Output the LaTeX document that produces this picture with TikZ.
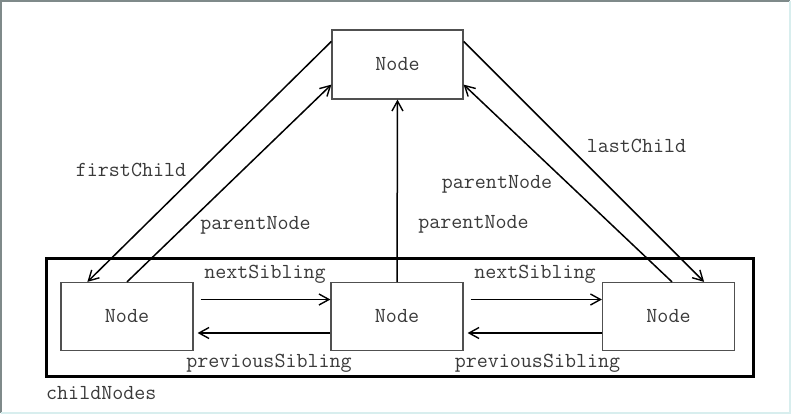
\documentclass[tikz,border=0pt]{standalone}
\usepackage{fontspec}
\usetikzlibrary{arrows.meta}
\definecolor{framegray}{HTML}{7F8A8A}
\definecolor{framecyan}{HTML}{D8EEEE}
\definecolor{txtgray}{HTML}{3A3A3A}
\definecolor{boxgray}{HTML}{505050}
\tikzset{
  x=1pt, y=-1pt,
  lbl/.style={font=\ttfamily\fontsize{21.4}{22}\selectfont, text=txtgray, inner sep=0pt},
  nodebox/.style={draw=boxgray, line width=1.2pt, fill=white, minimum width=132pt, minimum height=68pt, inner sep=0pt, lbl},
  conn/.style={line width=1.5pt, -{Straight Barb[length=10pt, width=11pt, line width=1.4pt]}},
}
\begin{document}
\begin{tikzpicture}
\useasboundingbox (0,0) rectangle (792,415);
\fill[white] (0,0) rectangle (792,415);
\draw[framegray, line width=1.5pt] (1,413) -- (1,1) -- (790,1);
\draw[framecyan, line width=1.5pt] (790,1) -- (790,413) -- (1,413);

% childNodes container
\node[draw=black, line width=3pt, minimum width=707pt, minimum height=118pt, inner sep=0pt] (cont) at (399.5,317) {};
\node[lbl, anchor=west] (cnlabel) at (46,393) {childNodes};

% nodes
\node[nodebox, minimum width=131pt, minimum height=69pt] (top) at (397.5,64.5) {Node};
\node[nodebox] (c1) at (127,316.5) {Node};
\node[nodebox] (c2) at (397,316.5) {Node};
\node[nodebox] (c3) at (668.5,316.5) {Node};

% sibling arrows
\draw[conn] ([xshift=7pt,yshift=17pt]c1.east) -- ([yshift=17pt]c2.west);
\draw[conn] ([yshift=-16.5pt]c2.west) -- ([xshift=4pt,yshift=-16.5pt]c1.east);
\draw[conn] ([xshift=7pt,yshift=17pt]c2.east) -- ([yshift=17pt]c3.west);
\draw[conn] ([yshift=-16.5pt]c3.west) -- ([xshift=4pt,yshift=-16.5pt]c2.east);

% parent/child arrows
\draw[conn] ([yshift=-12pt]top.north west) -- ([xshift=27pt]c1.north west);
\draw[conn] (c1.north) -- ([yshift=15pt]top.south west);
\draw[conn] (c2.north) -- (top.south);
\draw[conn] ([xshift=3.5pt]c3.north) -- ([yshift=15pt]top.south east);
\draw[conn] ([yshift=-12pt]top.north east) -- ([xshift=-31pt]c3.north east);

% labels
\node[lbl] (l1) at (131,170) {firstChild};
\node[lbl] (l2) at (255.5,225) {parentNode};
\node[lbl] (l3) at (473.5,224) {parentNode};
\node[lbl] (l4) at (497,184) {parentNode};
\node[lbl] (l5) at (636.5,146) {lastChild};
\node[lbl] (l6) at (265,274) {nextSibling};
\node[lbl] (l7) at (535,274) {nextSibling};
\node[lbl] (l8) at (269,363) {previousSibling};
\node[lbl] (l9) at (537.5,363) {previousSibling};
\end{tikzpicture}
\end{document}
